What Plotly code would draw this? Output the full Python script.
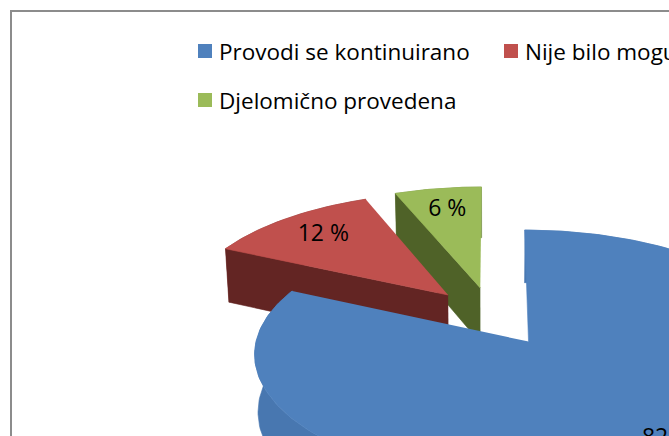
import numpy as np
import plotly.graph_objects as go

categories = ["Provodi se kontinuirano", "Nije bilo moguće provesti", "Djelomično provedena"]
values = [82, 12, 6]
value_labels = ["82 %", "12 %", "6 %"]

top_colors = ["#4F81BD", "#C0504D", "#9BBB59"]
side_colors = ["#4877B0", "#8F3B39", "#74903F"]
cut_colors = ["#2F4D72", "#632523", "#4F6228"]

W, H = 669, 436
FONT = "Open Sans"

# 3D camera / pie geometry (tilt, perspective, scale, centre, explosion, thickness)
ALPHA, Q, S, CX, CY, EXPL, THICK = 0.4631, 0.1299, 265.79, 492.31, 316.03, 0.2481, 0.2395
CAM = (ALPHA, Q, S, CX, CY)
label_r = [0.85, 0.76, 0.76]

vals = np.array(values, float)
frac = vals / vals.sum()
ends = np.cumsum(frac) * 2 * np.pi
starts = ends - frac * 2 * np.pi
mids = (starts + ends) / 2


def project(X, Y, Z, cam):
    a, q, s, cx, cy = cam
    u = X
    v = Y * np.sin(a) + Z * np.cos(a)
    w = Y * np.cos(a) - Z * np.sin(a)
    k = s / (1 + q * w)
    return cx + k * u, cy - k * v


fig = go.Figure()


def add_poly(xs, ys, color):
    fig.add_trace(go.Scatter(x=xs, y=ys, mode="lines", fill="toself", fillcolor=color,
                             line=dict(color=color, width=0.6), hoverinfo="skip", showlegend=False))


order = np.argsort(-np.cos(mids))  # far to near
for i in order:
    ox, oy = EXPL * np.sin(mids[i]), EXPL * np.cos(mids[i])
    t = np.linspace(starts[i], ends[i], 240)
    ax, ay = ox + np.sin(t), oy + np.cos(t)
    # curved outer side
    tx, ty = project(ax, ay, 0 * t, CAM)
    bx, by = project(ax, ay, -THICK + 0 * t, CAM)
    add_poly(np.r_[tx, bx[::-1]], np.r_[ty, by[::-1]], side_colors[i])
    # radial cut faces facing the viewer
    for ang, sgn in ((starts[i], -1), (ends[i], 1)):
        ny = -sgn * np.sin(ang)
        if -ny * np.cos(ALPHA) > 1e-6:
            ex, ey = ox + np.sin(ang), oy + np.cos(ang)
            X = np.array([ox, ex, ex, ox])
            Y = np.array([oy, ey, ey, oy])
            Z = np.array([0, 0, -THICK, -THICK])
            px, py = project(X, Y, Z, CAM)
            add_poly(px, py, cut_colors[i])
    # top face
    px, py = project(np.r_[ox, ax], np.r_[oy, ay], np.zeros(len(t) + 1), CAM)
    add_poly(px, py, top_colors[i])

# value labels
lr = np.array(label_r)
lx, ly = project(EXPL * np.sin(mids) + lr * np.sin(mids), EXPL * np.cos(mids) + lr * np.cos(mids),
                 np.zeros(3), CAM)
fig.add_trace(go.Scatter(x=lx, y=ly, mode="text", text=value_labels,
                         textfont=dict(family=FONT, size=23, color="#000000"),
                         hoverinfo="skip", showlegend=False))

# legend (wraps as in the original: two items on the first row, third on the second)
leg_x = [205, 511, 205]
leg_y = [51, 51, 100]
fig.add_trace(go.Scatter(x=leg_x, y=leg_y, mode="markers",
                         marker=dict(symbol="square", size=14, color=top_colors, line=dict(width=0)),
                         hoverinfo="skip", showlegend=False))
for i, name in enumerate(categories):
    fig.add_annotation(x=leg_x[i] + 11.5, y=leg_y[i], text=name, showarrow=False,
                       xanchor="left", yanchor="middle", xref="x", yref="y",
                       font=dict(family=FONT, size=22.5, color="#000000"))

# chart-area border
fig.add_shape(type="rect", x0=11, y0=11, x1=W + 50, y1=H + 50, xref="x", yref="y",
              line=dict(color="#8C8C8C", width=2), fillcolor="rgba(0,0,0,0)", layer="below")

fig.update_layout(width=W, height=H, margin=dict(l=0, r=0, t=0, b=0),
                  paper_bgcolor="white", plot_bgcolor="white",
                  xaxis=dict(range=[0, W], visible=False, fixedrange=True),
                  yaxis=dict(range=[H, 0], visible=False, fixedrange=True),
                  showlegend=False)
fig.write_html("out.html", config={"displayModeBar": False},
               post_script="document.body.style.margin='0';document.body.style.overflow='hidden';")
